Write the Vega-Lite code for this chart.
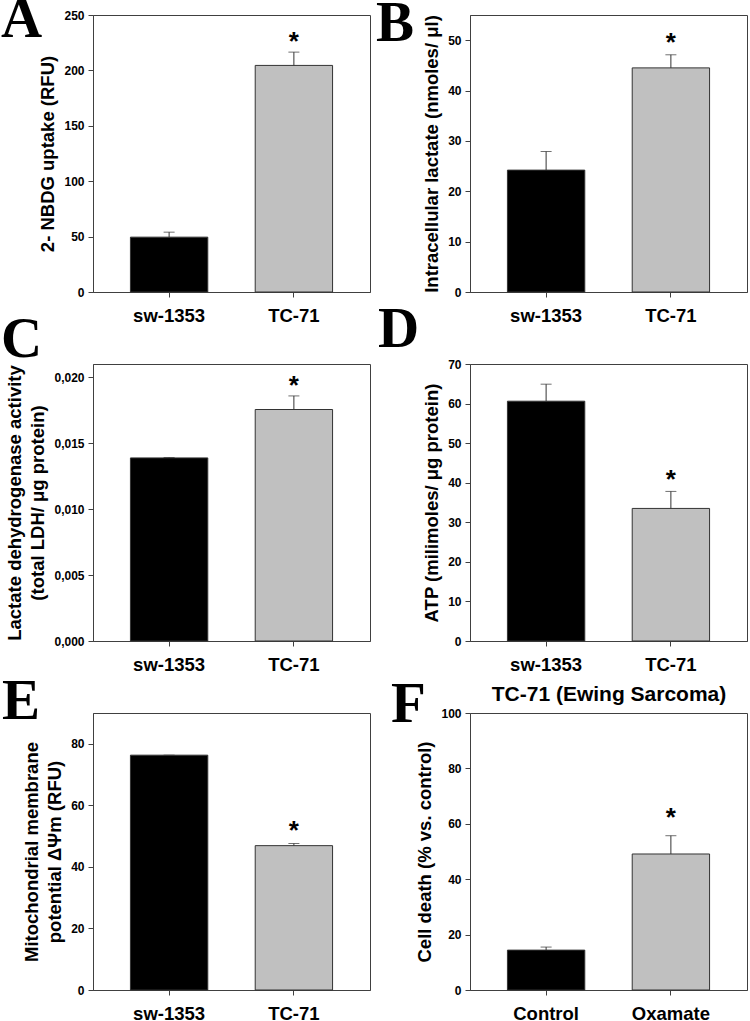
{
  "$schema": "https://vega.github.io/schema/vega-lite/v6.json",
  "padding": {"top": -10, "left": 0, "right": 0, "bottom": 0},
  "background": "white",
  "columns": 2,
  "spacing": {"row": 72, "column": 100},
  "bounds": "flush",
  "datasets": {
    "A": [{"g": "sw-1353", "v": 49.5, "e": 54, "s": ""}, {"g": "TC-71", "v": 204.5, "e": 216.5, "s": "*"}],
    "B": [{"g": "sw-1353", "v": 24.2, "e": 27.9, "s": ""}, {"g": "TC-71", "v": 44.5, "e": 47.1, "s": "*"}],
    "C": [{"g": "sw-1353", "v": 0.01388, "e": 0.01391, "s": ""}, {"g": "TC-71", "v": 0.01755, "e": 0.01858, "s": "*"}],
    "D": [{"g": "sw-1353", "v": 60.6, "e": 64.9, "s": ""}, {"g": "TC-71", "v": 33.5, "e": 37.8, "s": "*"}],
    "E": [{"g": "sw-1353", "v": 76.3, "e": 76.3, "s": ""}, {"g": "TC-71", "v": 46.9, "e": 47.6, "s": "*"}],
    "F": [{"g": "Control", "v": 14.4, "e": 15.5, "s": ""}, {"g": "Oxamate", "v": 49.1, "e": 55.7, "s": "*"}]
  },
  "concat": [
    {
      "width": 277, "height": 277,
      "title": {"text": "A", "dx": -92, "dy": 44},
      "data": {"name": "A"},
      "layer": [
        {"mark": {"type": "bar", "stroke": "#333333", "strokeWidth": 1},
         "encoding": {
           "x": {"field": "g", "type": "nominal", "sort": null, "scale": {"paddingInner": 0.38, "paddingOuter": 0.3}, "axis": {"title": null}},
           "y": {"field": "v", "type": "quantitative", "scale": {"domain": [0, 250], "nice": false}, "axis": {"values": [0, 50, 100, 150, 200, 250], "title": "2- NBDG uptake (RFU)"}},
           "fill": {"condition": {"test": "datum.g === 'TC-71' || datum.g === 'Oxamate'", "value": "#c0c0c0"}, "value": "#000000"}}},
        {"mark": {"type": "rule", "color": "#333333", "strokeWidth": 1},
         "encoding": {"x": {"field": "g", "type": "nominal", "sort": null}, "y": {"field": "v", "type": "quantitative", "axis": {"values": [0, 50, 100, 150, 200, 250], "title": "2- NBDG uptake (RFU)"}}, "y2": {"field": "e"}}},
        {"mark": {"type": "tick", "orient": "horizontal", "size": 11, "thickness": 1, "color": "#333333"},
         "encoding": {"x": {"field": "g", "type": "nominal", "sort": null}, "y": {"field": "e", "type": "quantitative", "axis": {"values": [0, 50, 100, 150, 200, 250], "title": "2- NBDG uptake (RFU)"}}}},
        {"mark": {"type": "text", "fontSize": 26, "fontWeight": "bold", "baseline": "alphabetic", "dy": -2, "color": "#000000"},
         "encoding": {"x": {"field": "g", "type": "nominal", "sort": null}, "y": {"field": "e", "type": "quantitative", "axis": {"values": [0, 50, 100, 150, 200, 250], "title": "2- NBDG uptake (RFU)"}}, "text": {"field": "s"}}}
      ]
    },
    {
      "width": 277, "height": 277,
      "title": {"text": "B", "dx": -94, "dy": 42},
      "data": {"name": "B"},
      "layer": [
        {"mark": {"type": "bar", "stroke": "#333333", "strokeWidth": 1},
         "encoding": {
           "x": {"field": "g", "type": "nominal", "sort": null, "scale": {"paddingInner": 0.38, "paddingOuter": 0.3}, "axis": {"title": null}},
           "y": {"field": "v", "type": "quantitative", "scale": {"domain": [0, 55], "nice": false}, "axis": {"values": [0, 10, 20, 30, 40, 50], "title": "Intracellular lactate (nmoles/ μl)"}},
           "fill": {"condition": {"test": "datum.g === 'TC-71' || datum.g === 'Oxamate'", "value": "#c0c0c0"}, "value": "#000000"}}},
        {"mark": {"type": "rule", "color": "#333333", "strokeWidth": 1},
         "encoding": {"x": {"field": "g", "type": "nominal", "sort": null}, "y": {"field": "v", "type": "quantitative", "axis": {"values": [0, 10, 20, 30, 40, 50], "title": "Intracellular lactate (nmoles/ μl)"}}, "y2": {"field": "e"}}},
        {"mark": {"type": "tick", "orient": "horizontal", "size": 11, "thickness": 1, "color": "#333333"},
         "encoding": {"x": {"field": "g", "type": "nominal", "sort": null}, "y": {"field": "e", "type": "quantitative", "axis": {"values": [0, 10, 20, 30, 40, 50], "title": "Intracellular lactate (nmoles/ μl)"}}}},
        {"mark": {"type": "text", "fontSize": 26, "fontWeight": "bold", "baseline": "alphabetic", "dy": -4, "color": "#000000"},
         "encoding": {"x": {"field": "g", "type": "nominal", "sort": null}, "y": {"field": "e", "type": "quantitative", "axis": {"values": [0, 10, 20, 30, 40, 50], "title": "Intracellular lactate (nmoles/ μl)"}}, "text": {"field": "s"}}}
      ]
    },
    {
      "width": 277, "height": 277,
      "title": {"text": "C", "dx": -92, "dy": 9},
      "data": {"name": "C"},
      "layer": [
        {"mark": {"type": "bar", "stroke": "#333333", "strokeWidth": 1},
         "encoding": {
           "x": {"field": "g", "type": "nominal", "sort": null, "scale": {"paddingInner": 0.38, "paddingOuter": 0.3}, "axis": {"title": null}},
           "y": {"field": "v", "type": "quantitative", "scale": {"domain": [0, 0.021], "nice": false}, "axis": {"values": [0, 0.005, 0.01, 0.015, 0.02], "labelExpr": "replace(format(datum.value, '.3f'), '.', ',')", "title": ["Lactate dehydrogenase activity", "(total LDH/ μg protein)"]}},
           "fill": {"condition": {"test": "datum.g === 'TC-71' || datum.g === 'Oxamate'", "value": "#c0c0c0"}, "value": "#000000"}}},
        {"mark": {"type": "rule", "color": "#333333", "strokeWidth": 1},
         "encoding": {"x": {"field": "g", "type": "nominal", "sort": null}, "y": {"field": "v", "type": "quantitative", "axis": {"values": [0, 0.005, 0.01, 0.015, 0.02], "labelExpr": "replace(format(datum.value, '.3f'), '.', ',')", "title": ["Lactate dehydrogenase activity", "(total LDH/ μg protein)"]}}, "y2": {"field": "e"}}},
        {"mark": {"type": "tick", "orient": "horizontal", "size": 11, "thickness": 1, "color": "#333333"},
         "encoding": {"x": {"field": "g", "type": "nominal", "sort": null}, "y": {"field": "e", "type": "quantitative", "axis": {"values": [0, 0.005, 0.01, 0.015, 0.02], "labelExpr": "replace(format(datum.value, '.3f'), '.', ',')", "title": ["Lactate dehydrogenase activity", "(total LDH/ μg protein)"]}}}},
        {"mark": {"type": "text", "fontSize": 26, "fontWeight": "bold", "baseline": "alphabetic", "dy": -2, "color": "#000000"},
         "encoding": {"x": {"field": "g", "type": "nominal", "sort": null}, "y": {"field": "e", "type": "quantitative", "axis": {"values": [0, 0.005, 0.01, 0.015, 0.02], "labelExpr": "replace(format(datum.value, '.3f'), '.', ',')", "title": ["Lactate dehydrogenase activity", "(total LDH/ μg protein)"]}}, "text": {"field": "s"}}}
      ]
    },
    {
      "width": 277, "height": 277,
      "title": {"text": "D", "dx": -92, "dy": 5},
      "data": {"name": "D"},
      "layer": [
        {"mark": {"type": "bar", "stroke": "#333333", "strokeWidth": 1},
         "encoding": {
           "x": {"field": "g", "type": "nominal", "sort": null, "scale": {"paddingInner": 0.38, "paddingOuter": 0.3}, "axis": {"title": null}},
           "y": {"field": "v", "type": "quantitative", "scale": {"domain": [0, 70], "nice": false}, "axis": {"values": [0, 10, 20, 30, 40, 50, 60, 70], "title": "ATP (milimoles/ μg protein)"}},
           "fill": {"condition": {"test": "datum.g === 'TC-71' || datum.g === 'Oxamate'", "value": "#c0c0c0"}, "value": "#000000"}}},
        {"mark": {"type": "rule", "color": "#333333", "strokeWidth": 1},
         "encoding": {"x": {"field": "g", "type": "nominal", "sort": null}, "y": {"field": "v", "type": "quantitative", "axis": {"values": [0, 10, 20, 30, 40, 50, 60, 70], "title": "ATP (milimoles/ μg protein)"}}, "y2": {"field": "e"}}},
        {"mark": {"type": "tick", "orient": "horizontal", "size": 11, "thickness": 1, "color": "#333333"},
         "encoding": {"x": {"field": "g", "type": "nominal", "sort": null}, "y": {"field": "e", "type": "quantitative", "axis": {"values": [0, 10, 20, 30, 40, 50, 60, 70], "title": "ATP (milimoles/ μg protein)"}}}},
        {"mark": {"type": "text", "fontSize": 26, "fontWeight": "bold", "baseline": "alphabetic", "dy": -3, "color": "#000000"},
         "encoding": {"x": {"field": "g", "type": "nominal", "sort": null}, "y": {"field": "e", "type": "quantitative", "axis": {"values": [0, 10, 20, 30, 40, 50, 60, 70], "title": "ATP (milimoles/ μg protein)"}}, "text": {"field": "s"}}}
      ]
    },
    {
      "width": 277, "height": 277,
      "title": {"text": "E", "dx": -91, "dy": 22},
      "data": {"name": "E"},
      "layer": [
        {"mark": {"type": "bar", "stroke": "#333333", "strokeWidth": 1},
         "encoding": {
           "x": {"field": "g", "type": "nominal", "sort": null, "scale": {"paddingInner": 0.38, "paddingOuter": 0.3}, "axis": {"title": null}},
           "y": {"field": "v", "type": "quantitative", "scale": {"domain": [0, 90], "nice": false}, "axis": {"values": [0, 20, 40, 60, 80], "title": ["Mitochondrial membrane", "potential ΔΨm (RFU)"]}},
           "fill": {"condition": {"test": "datum.g === 'TC-71' || datum.g === 'Oxamate'", "value": "#c0c0c0"}, "value": "#000000"}}},
        {"mark": {"type": "rule", "color": "#333333", "strokeWidth": 1},
         "encoding": {"x": {"field": "g", "type": "nominal", "sort": null}, "y": {"field": "v", "type": "quantitative", "axis": {"values": [0, 20, 40, 60, 80], "title": ["Mitochondrial membrane", "potential ΔΨm (RFU)"]}}, "y2": {"field": "e"}}},
        {"mark": {"type": "tick", "orient": "horizontal", "size": 11, "thickness": 1, "color": "#333333"},
         "encoding": {"x": {"field": "g", "type": "nominal", "sort": null}, "y": {"field": "e", "type": "quantitative", "axis": {"values": [0, 20, 40, 60, 80], "title": ["Mitochondrial membrane", "potential ΔΨm (RFU)"]}}}},
        {"mark": {"type": "text", "fontSize": 26, "fontWeight": "bold", "baseline": "alphabetic", "dy": -4, "color": "#000000"},
         "encoding": {"x": {"field": "g", "type": "nominal", "sort": null}, "y": {"field": "e", "type": "quantitative", "axis": {"values": [0, 20, 40, 60, 80], "title": ["Mitochondrial membrane", "potential ΔΨm (RFU)"]}}, "text": {"field": "s"}}}
      ]
    },
    {
      "width": 277, "height": 277,
      "title": {"text": "F", "dx": -79, "dy": 55},
      "data": {"name": "F"},
      "resolve": {"axis": {"x": "independent"}},
      "layer": [
        {"mark": {"type": "bar", "stroke": "#333333", "strokeWidth": 1},
         "encoding": {
           "x": {"field": "g", "type": "nominal", "sort": null, "scale": {"paddingInner": 0.38, "paddingOuter": 0.3}, "axis": {"title": null, "orient": "bottom"}},
           "y": {"field": "v", "type": "quantitative", "scale": {"domain": [0, 100], "nice": false}, "axis": {"values": [0, 20, 40, 60, 80, 100], "title": "Cell death (% vs. control)"}},
           "fill": {"condition": {"test": "datum.g === 'TC-71' || datum.g === 'Oxamate'", "value": "#c0c0c0"}, "value": "#000000"}}},
        {"mark": {"type": "rule", "color": "#333333", "strokeWidth": 1},
         "encoding": {"x": {"field": "g", "type": "nominal", "sort": null, "axis": null}, "y": {"field": "v", "type": "quantitative", "axis": {"values": [0, 20, 40, 60, 80, 100], "title": "Cell death (% vs. control)"}}, "y2": {"field": "e"}}},
        {"mark": {"type": "tick", "orient": "horizontal", "size": 11, "thickness": 1, "color": "#333333"},
         "encoding": {"x": {"field": "g", "type": "nominal", "sort": null, "axis": null}, "y": {"field": "e", "type": "quantitative", "axis": {"values": [0, 20, 40, 60, 80, 100], "title": "Cell death (% vs. control)"}}}},
        {"mark": {"type": "text", "fontSize": 26, "fontWeight": "bold", "baseline": "alphabetic", "dy": -10, "color": "#000000"},
         "encoding": {"x": {"field": "g", "type": "nominal", "sort": null, "axis": {"orient": "top", "title": "TC-71 (Ewing Sarcoma)", "labels": false, "ticks": false, "domain": false, "titleFontSize": 21, "titlePadding": 13, "titleBaseline": "alphabetic"}}, "y": {"field": "e", "type": "quantitative", "axis": {"values": [0, 20, 40, 60, 80, 100], "title": "Cell death (% vs. control)"}}, "text": {"field": "s"}}}
      ]
    }
  ],
  "config": {
    "font": "Liberation Sans",
    "view": {"stroke": "#404040", "strokeWidth": 1},
    "axis": {
      "labelFont": "Liberation Sans", "labelFontWeight": "bold", "labelColor": "#000000",
      "titleFont": "Liberation Sans", "titleFontWeight": "bold", "titleColor": "#000000",
      "titleFontSize": 18.5, "titleLineHeight": 23, "titlePadding": 6,
      "domainColor": "#404040", "tickColor": "#404040", "tickSize": 5, "grid": false
    },
    "axisY": {"labelFontSize": 12, "labelPadding": 4},
    "axisX": {"labelFontSize": 18.5, "labelAngle": 0, "labelPadding": 9},
    "title": {"font": "Liberation Serif", "fontSize": 57, "fontWeight": "bold", "anchor": "start", "frame": "group", "baseline": "alphabetic", "offset": 0, "color": "#000000"}
  }
}
